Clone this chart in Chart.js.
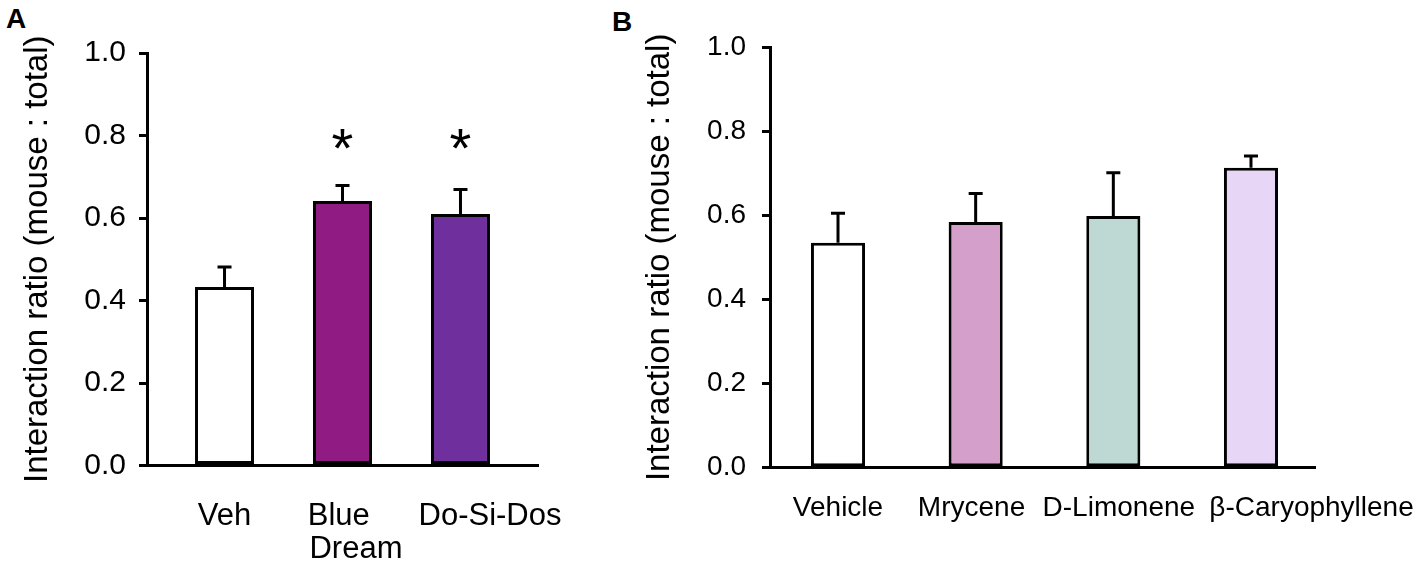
<!DOCTYPE html>
<html>
<head>
<meta charset="utf-8">
<script src="https://cdn.jsdelivr.net/npm/chart.js@4"></script>
<style>
  html, body { margin: 0; padding: 0; background: #fff; }
  body { width: 1418px; height: 572px; position: relative; overflow: hidden; }
  .panel { position: absolute; top: 0; height: 572px; }
  #wrapA { left: 0; width: 600px; }
  #wrapB { left: 600px; width: 818px; }
  .tag { position: absolute; font: bold 28px "Liberation Sans", Arial, sans-serif; color: #000; }
</style>
</head>
<body>
<div class="tag" style="left:6px; top:3px;">A</div>
<div class="tag" style="left:612px; top:6px;">B</div>
<div class="panel" id="wrapA"><canvas id="chartA"></canvas></div>
<div class="panel" id="wrapB"><canvas id="chartB"></canvas></div>
<script>
// panel A: cannabis chemovars
const labelsA = ['Veh', ['Blue    ', 'Dream'], 'Do-Si-Dos'];
const valuesA = [0.433, 0.641, 0.610];
const semA = [0.048, 0.038, 0.059];
const sigA = ['', '*', '*'];
const colorsA = ['#ffffff', '#8f1b83', '#6f2f9d'];

// panel B: terpenes
const labelsB = ['Vehicle', 'Mrycene', 'D-Limonene', 'β-Caryophyllene'];
const valuesB = [0.535, 0.584, 0.598, 0.713];
const semB = [0.070, 0.068, 0.103, 0.028];
const colorsB = ['#ffffff', '#d49fcb', '#bed8d3', '#e8d6f6'];

const yTicks = [0, 0.2, 0.4, 0.6, 0.8, 1.0];
const sigLevel = 0.79;
const yTitle = 'Interaction ratio (mouse : total)';

Chart.defaults.color = '#000';
Chart.defaults.font.family = '"Liberation Sans", Arial, sans-serif';

// upper error bars and significance stars
const errorBars = {
  id: 'errorBars',
  afterDatasetsDraw(chart, args, opts) {
    const ctx = chart.ctx;
    const xs = chart.scales.x, ys = chart.scales.y;
    ctx.save();
    ctx.strokeStyle = '#000';
    ctx.lineWidth = 3;
    opts.values.forEach(function(v, i) {
      const x = xs.getPixelForValue(i);
      const y0 = ys.getPixelForValue(v);
      const y1 = ys.getPixelForValue(v + opts.sem[i]);
      ctx.beginPath();
      ctx.moveTo(x, y0);
      ctx.lineTo(x, y1);
      ctx.moveTo(x - 7, y1);
      ctx.lineTo(x + 7, y1);
      ctx.stroke();
      if (opts.sig && opts.sig[i]) {
        ctx.fillStyle = '#000';
        ctx.font = '56px "Liberation Sans", Arial, sans-serif';
        ctx.textAlign = 'center';
        ctx.textBaseline = 'alphabetic';
        ctx.fillText(opts.sig[i], x, ys.getPixelForValue(sigLevel) + 27);
      }
    });
    ctx.restore();
  }
};

function makeChart(id, labels, values, sem, sig, colors, cfg) {
  const data = values.map((v, i) => ({ x: i, y: v }));
  return new Chart(document.getElementById(id), {
    type: 'bar',
    data: {
      datasets: [{
        data: data,
        backgroundColor: colors,
        borderColor: '#000',
        borderWidth: 3,
        borderSkipped: false,
        categoryPercentage: 1,
        barPercentage: cfg.barPct
      }]
    },
    options: {
      responsive: true,
      maintainAspectRatio: false,
      animation: false,
      layout: { padding: { left: 0, right: cfg.padRight, top: cfg.padTop, bottom: 0 } },
      plugins: {
        legend: { display: false },
        tooltip: { enabled: false },
        errorBars: { values: values, sem: sem, sig: sig }
      },
      scales: {
        x: {
          type: 'linear',
          offset: false,
          min: cfg.xMin,
          max: cfg.xMax,
          // labels sit slightly right of the bars for the longer names
          afterBuildTicks: s => { s.ticks = cfg.labelAt.map(v => ({ value: v })); },
          afterFit: s => {
            s.height = cfg.xHeight;
            s.paddingLeft = 0;
            s.paddingRight = 0;
          },
          grid: { display: false },
          border: { display: true, color: '#000', width: 3 },
          ticks: {
            autoSkip: false,
            maxRotation: 0,
            padding: cfg.xPad,
            font: { size: cfg.xFont, lineHeight: 1.08 },
            callback: (v, i) => labels[i]
          }
        },
        y: {
          min: 0,
          max: 1,
          afterBuildTicks: s => { s.ticks = yTicks.map(v => ({ value: v })); },
          afterFit: s => { s.width = cfg.yWidth; },
          grid: { drawOnChartArea: false, drawTicks: true, tickLength: 8, color: '#000', lineWidth: 3 },
          border: { display: true, color: '#000', width: 3 },
          ticks: {
            padding: cfg.yPad,
            font: { size: cfg.yFont },
            callback: v => v.toFixed(1)
          },
          title: {
            display: true,
            text: yTitle,
            font: { size: 33 },
            padding: { top: cfg.titlePad, bottom: 0 }
          }
        }
      }
    },
    plugins: [errorBars]
  });
}

makeChart('chartA', labelsA, valuesA, semA, sigA, colorsA, {
  barPct: 0.5, padRight: 62, padTop: 53, xMin: -0.657, xMax: 2.657,
  labelAt: [0, 1.114, 2.25],
  xHeight: 106.5, xPad: 26, xFont: 31, yWidth: 147, yPad: 13, yFont: 30, titlePad: 18
});

makeChart('chartB', labelsB, valuesB, semB, null, colorsB, {
  barPct: 0.405, padRight: 103, padTop: 47, xMin: -0.494, xMax: 3.465,
  labelAt: [0, 0.97, 2.04, 3.44],
  xHeight: 104.3, xPad: 17, xFont: 28, yWidth: 170, yPad: 16, yFont: 28, titlePad: 40
});
</script>
</body>
</html>
